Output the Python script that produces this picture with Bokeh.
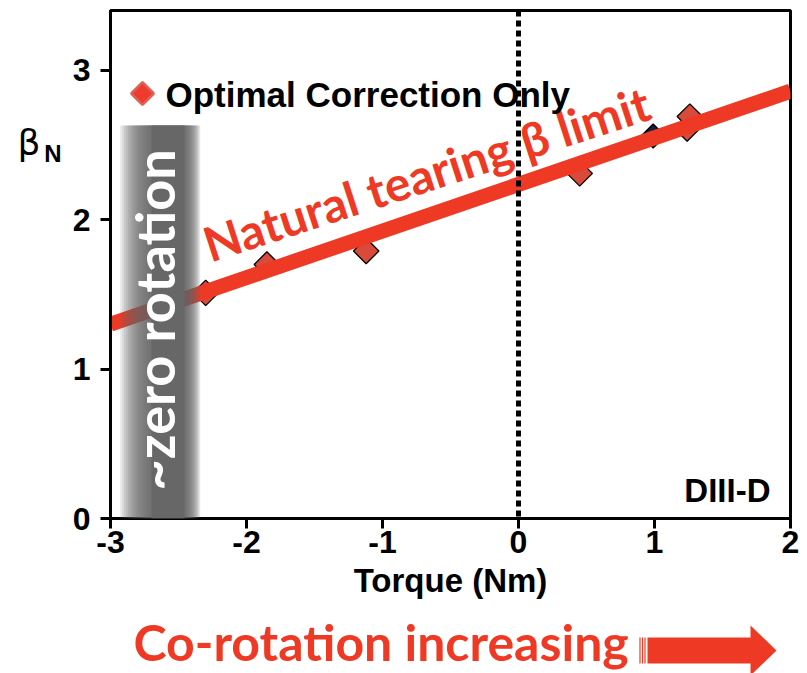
import numpy as np
from bokeh.plotting import figure
from bokeh.layouts import column
from bokeh.models import (Label, BoxAnnotation, FixedTicker, Span, Range1d,
                          LinearAxis, CustomJSTickFormatter)
from bokeh.embed import file_html
from bokeh.resources import INLINE

# beta_N reached vs. injected torque, optimal error-field correction only
torque = [-2.30, -1.85, -1.12, 0.45, 1.24, 1.26]
beta_n = [1.51, 1.70, 1.79, 2.31, 2.61, 2.69]
# second series point, almost hidden under the fit
torque_other = [0.99]
beta_other = [2.56]

# linear fit: natural tearing beta limit
limit_torque = [-3.0, 2.0]
limit_beta = [1.30, 2.86]

# torque window where the plasma rotation is ~ zero
zero_rot = (-2.93, -2.34)

x_ticks = [-3, -2, -1, 0, 1, 2]
y_ticks = [0, 1, 2, 3]
x_labels = {t: str(t) for t in x_ticks}

RED = "#ee3a24"
W = 807
H_MAIN, H_CAP = 612, 61
FL, FR, FT, FB = 110, 790, 10, 518        # frame edges, canvas pixels
X0, X1, Y0, Y1 = -3.0, 2.0, 0.0, 3.4
LIFT = 12                                 # label anchor correction, px


def dx(px):
    """canvas x pixel -> data x"""
    return X0 + (px - FL) * (X1 - X0) / (FR - FL)


def dy(py):
    """canvas y pixel -> data y"""
    return Y0 + (FB - py) * (Y1 - Y0) / (FB - FT)


def anchor(px, py, angle=0.0, lift=LIFT):
    """data position of a label anchor given in pixels, nudged along the text's up direction"""
    return dx(px - lift * np.sin(angle)), dy(py - lift * np.cos(angle))


p = figure(width=W, height=H_MAIN, x_range=(X0, X1), y_range=(Y0, Y1),
           output_backend="svg", toolbar_location=None,
           min_border_left=FL, min_border_right=W - FR,
           min_border_top=FT, min_border_bottom=H_MAIN - FB)
p.grid.visible = False
p.outline_line_color = "black"
p.outline_line_width = 3
p.background_fill_color = "white"
p.border_fill_color = "white"

for ax in (p.xaxis[0], p.yaxis[0]):
    ax.axis_line_width = 3
    ax.major_tick_line_width = 3
    ax.major_tick_out = 10
    ax.major_tick_in = 0
    ax.minor_tick_out = 0
    ax.minor_tick_in = 0
    ax.major_label_text_font = "Liberation Sans"
    ax.major_label_text_font_style = "bold"
    ax.major_label_text_font_size = "32px"
    ax.major_label_text_color = "black"

p.xaxis.ticker = FixedTicker(ticks=x_ticks)
p.xaxis.major_label_overrides = x_labels
p.xaxis.major_label_standoff = 2
p.xaxis.axis_label = "Torque (Nm)"
p.xaxis.axis_label_text_font = "Liberation Sans"
p.xaxis.axis_label_text_font_style = "bold"
p.xaxis.axis_label_text_font_size = "33px"
p.xaxis.axis_label_text_color = "black"
p.xaxis.axis_label_standoff = 6

p.yaxis.ticker = FixedTicker(ticks=y_ticks)
p.yaxis.major_label_standoff = 10


def symbol_axis(text, at, font, size, style, standoff):
    """bare left axis that only prints one symbol at height `at`"""
    return LinearAxis(ticker=FixedTicker(ticks=[at]),
                      formatter=CustomJSTickFormatter(code="return '%s'" % text),
                      axis_line_color=None, major_tick_line_color=None,
                      minor_tick_line_color=None, major_tick_out=0, major_tick_in=0,
                      major_label_standoff=standoff, major_label_text_font=font,
                      major_label_text_font_size=size, major_label_text_font_style=style,
                      major_label_text_color="black")


# y-axis symbol beta_N: subscript N next to the ticks, beta outside it
p.add_layout(symbol_axis("N", dy(153), "Liberation Sans", "24px", "bold", 8), "left")
p.add_layout(symbol_axis("\u03b2", dy(142), "DejaVu Sans", "36px", "normal", 1), "left")

# data points and the fitted limit
p.scatter(torque, beta_n, marker="square", angle=np.pi / 4, size=18,
          fill_color="#d84a3a", line_color="black", line_width=1.3)
p.scatter(torque_other, beta_other, marker="square", angle=np.pi / 4, size=17,
          fill_color="#1c1c3c", line_color="black", line_width=1.3)
p.line(limit_torque, limit_beta, line_width=15, line_color=RED)

# shaded ~zero rotation band: nested boxes build a soft-edged gradient
lo, hi = zero_rot
core_l, core_r = dx(151), dx(184)
top = dy(125)
n = 16
for i in range(n):
    f = (i + 1) / n
    p.add_layout(BoxAnnotation(left=core_l - (core_l - lo) * f,
                               right=core_r + (hi - core_r) * f,
                               bottom=Y0, top=top, fill_color="#666666",
                               fill_alpha=0.13, line_color=None))
p.add_layout(BoxAnnotation(left=core_l, right=core_r, bottom=Y0, top=top,
                           fill_color="#676767", fill_alpha=1.0, line_color=None))

ax_, ay_ = anchor(166, 490, np.pi / 2)
p.add_layout(Label(x=ax_, y=ay_, text="~zero rotation",
                   angle=np.pi / 2, text_align="left", text_baseline="middle",
                   text_font="Lato", text_font_style="bold", text_font_size="54px",
                   text_color="white"))

ang = np.deg2rad(18.0)
ax_, ay_ = anchor(208, 256, ang)
p.add_layout(Label(x=ax_, y=ay_, text="Natural tearing \u03b2 limit",
                   angle=ang, text_align="left", text_baseline="alphabetic",
                   text_font="Lato", text_font_style="bold", text_font_size="48px",
                   text_color=RED))

# legend key
p.scatter([dx(142)], [dy(93)], marker="square", angle=np.pi / 4, size=16,
          fill_color="#ee3b2b", line_color="#dc6258", line_width=2.5)
ax_, ay_ = anchor(165, 106)
p.add_layout(Label(x=ax_, y=ay_, text="Optimal Correction Only",
                   text_align="left", text_baseline="alphabetic",
                   text_font="Liberation Sans", text_font_style="bold",
                   text_font_size="35px", text_color="black"))

ax_, ay_ = anchor(770, 502)
p.add_layout(Label(x=ax_, y=ay_, text="DIII-D",
                   text_align="right", text_baseline="alphabetic",
                   text_font="Liberation Sans", text_font_style="bold",
                   text_font_size="33px", text_color="black"))

# zero-torque marker
p.add_layout(Span(location=0, dimension="height", line_color="black",
                  line_width=5, line_dash="6 4"))

# caption strip under the plot; its frame lines up with the plot frame,
# so x is in page pixels and y is measured up from the strip bottom
cap = figure(width=W, height=H_CAP, x_range=Range1d(FL, FR), y_range=Range1d(0, H_CAP),
             output_backend="svg", toolbar_location=None,
             min_border_left=FL, min_border_right=W - FR,
             min_border_top=0, min_border_bottom=0, outline_line_color=None)
cap.axis.visible = False
cap.grid.visible = False
cap.background_fill_color = "white"
cap.border_fill_color = "white"


def cy(py):
    """page y pixel -> caption y"""
    return H_MAIN + H_CAP - py


cap.add_layout(Label(x=133, y=cy(662 - 21), text="Co-rotation increasing",
                     text_align="left", text_baseline="alphabetic",
                     text_font="Lato", text_font_style="bold", text_font_size="50px",
                     text_color=RED))
arrow_x = [647, 750, 750, 776, 750, 750, 647]
arrow_y = [cy(v) for v in (637, 637, 625, 650, 675, 663, 663)]
cap.patch(arrow_x, arrow_y, fill_color=RED, line_color=None)
for sx in (639.5, 642.0, 644.5):
    cap.quad(left=sx - 0.6, right=sx + 0.6, bottom=cy(663), top=cy(637),
             fill_color=RED, line_color=None)

layout = column(p, cap, spacing=0)
open("out.html", "w").write(file_html(layout, INLINE))
